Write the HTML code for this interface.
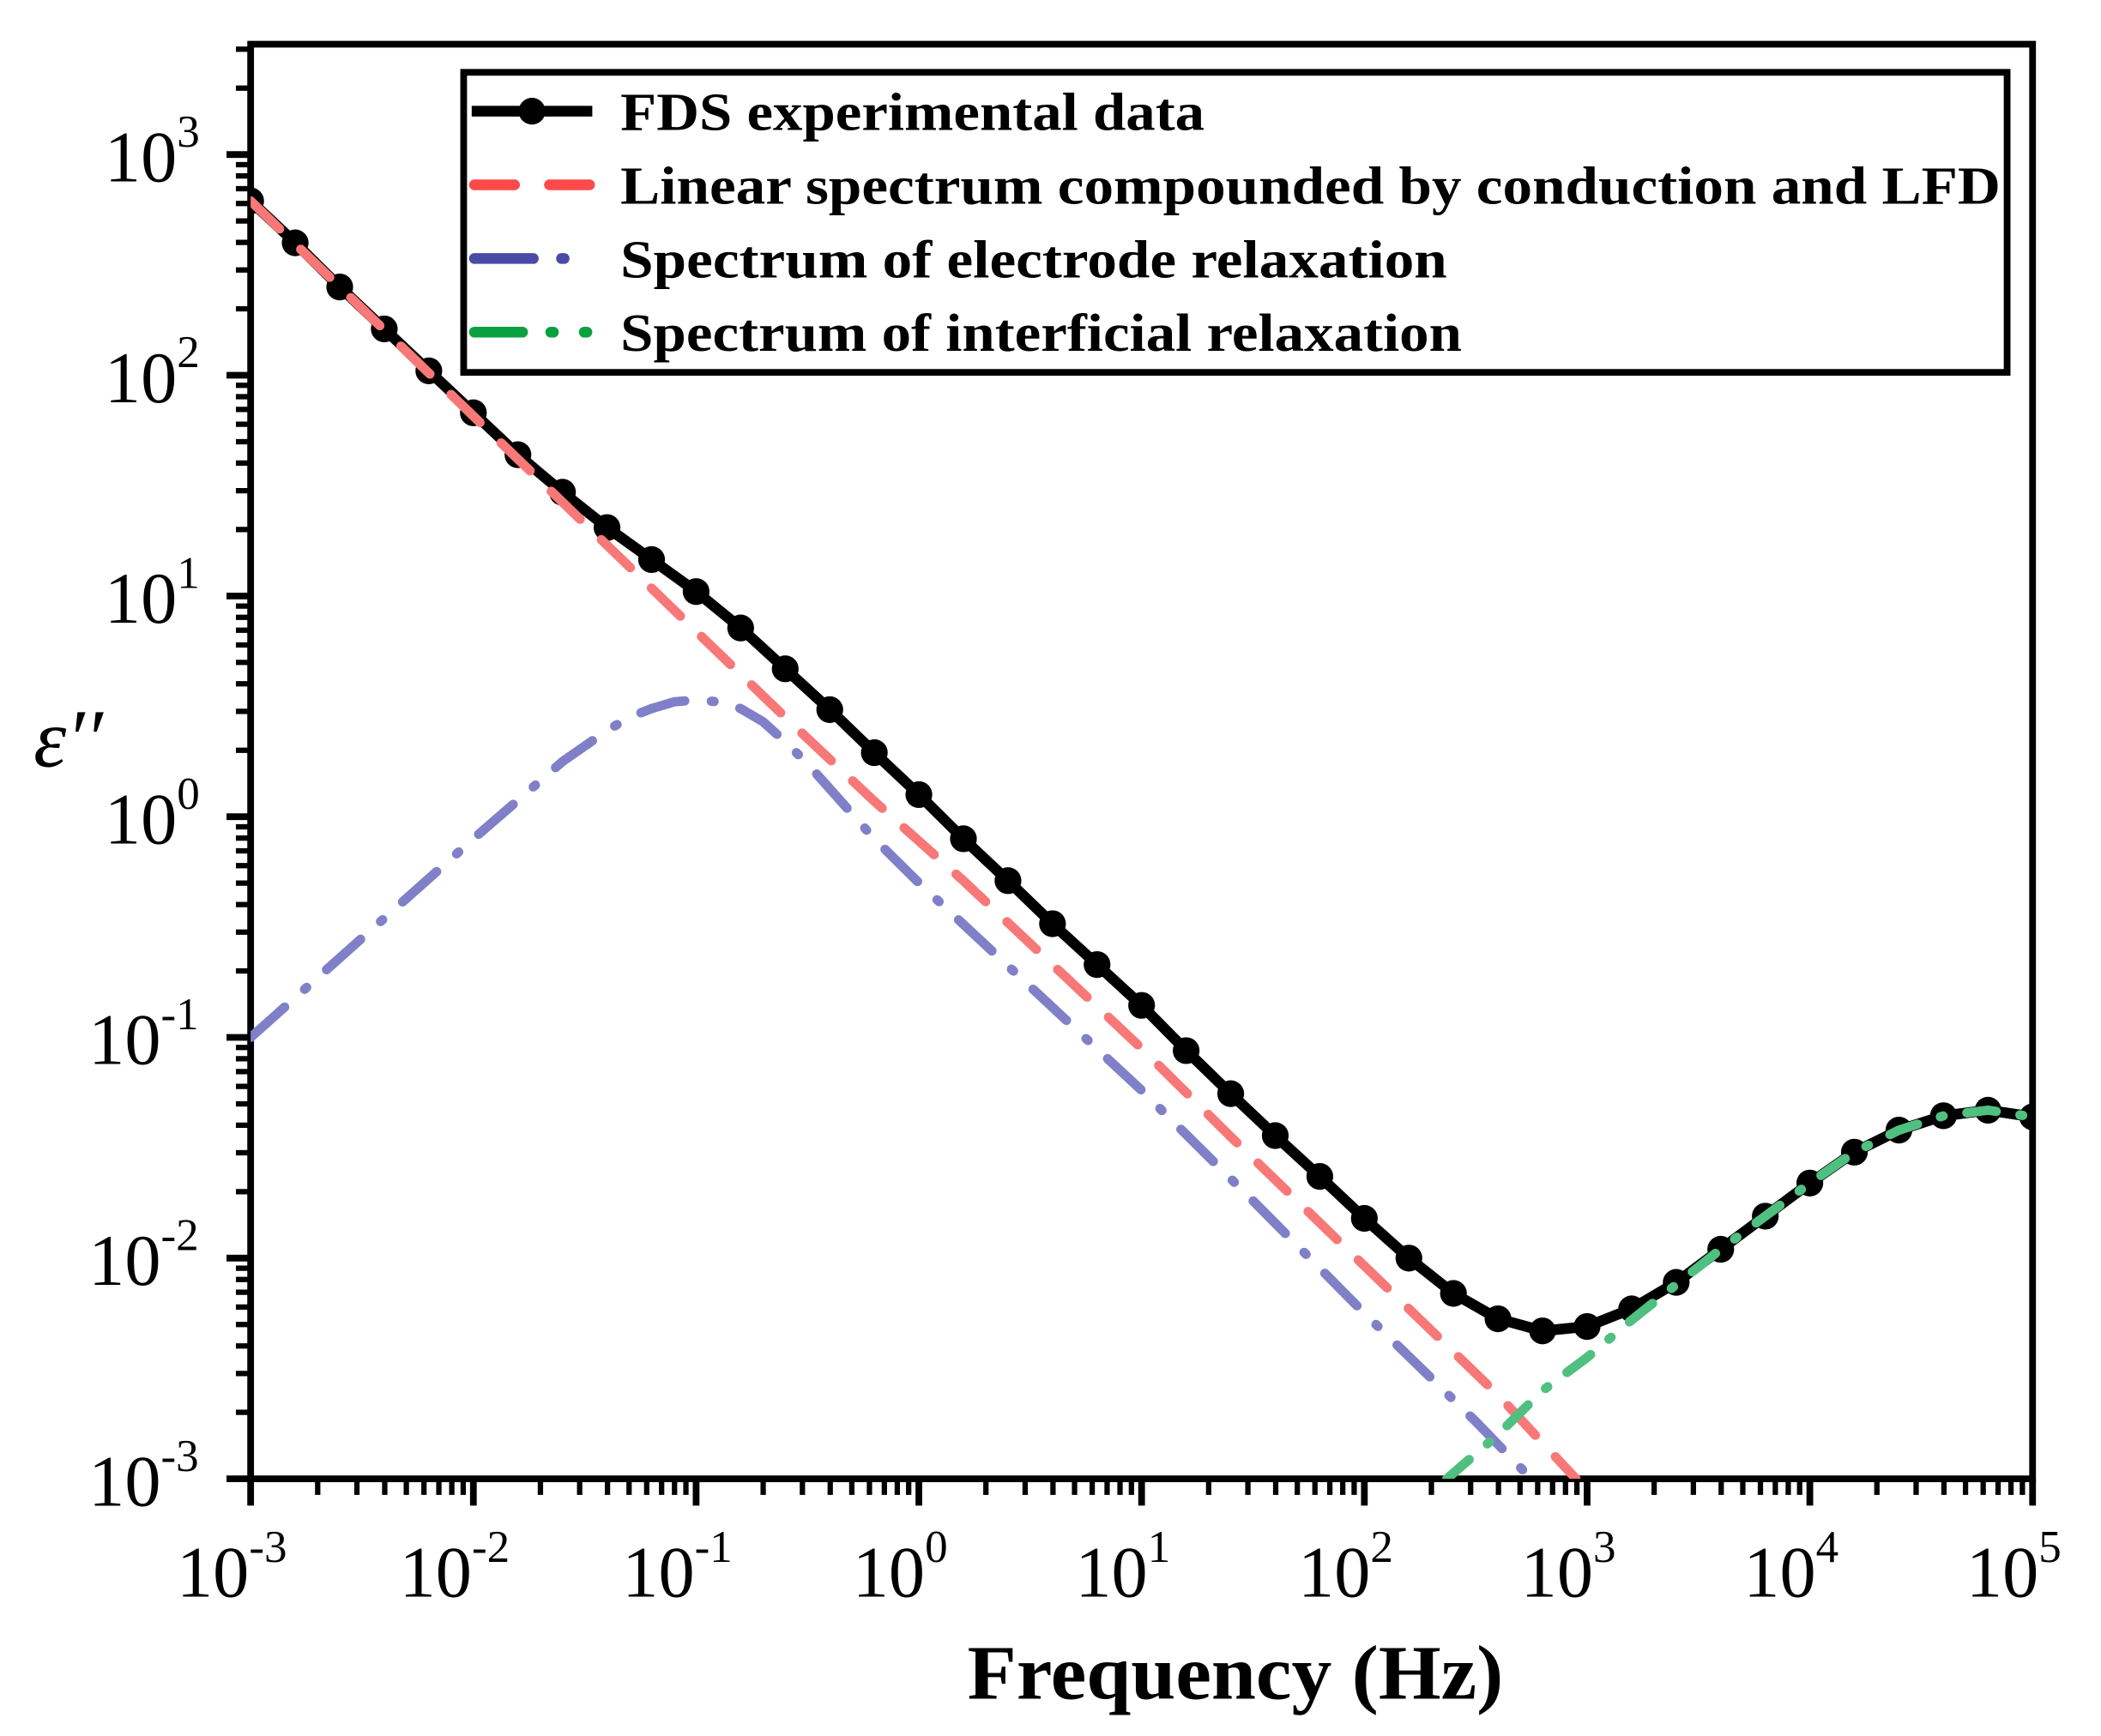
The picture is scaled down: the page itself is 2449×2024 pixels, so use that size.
<!DOCTYPE html>
<html><head><meta charset="utf-8"><style>
html,body{margin:0;padding:0;background:#fff;}
svg{display:block;}
text{font-family:"Liberation Serif",serif;fill:#000;}
</style></head><body>
<svg id="chart" width="2449" height="2024" viewBox="0 0 1568 1296" xmlns="http://www.w3.org/2000/svg">
<g id="axes"></g>
<g id="series"></g>
<g id="legend">
  <rect x="346" y="54" width="1152" height="224" fill="#fff" stroke="#000" stroke-width="5"/>
  <g>
    <line x1="352" y1="83" x2="442" y2="83" stroke="#000" stroke-width="8"/>
    <circle cx="397" cy="83" r="10" fill="#000"/>
    <text x="463" y="97" font-size="40" font-weight="bold" textLength="436" lengthAdjust="spacingAndGlyphs">FDS experimental data</text>
  </g>
  <g>
    <line x1="354" y1="138" x2="440" y2="138" stroke="#ff4a4a" stroke-width="8" stroke-dasharray="30,26" stroke-linecap="round"/>
    <text x="463" y="152" font-size="40" font-weight="bold" textLength="1030" lengthAdjust="spacingAndGlyphs">Linear spectrum compounded by conduction and LFD</text>
  </g>
  <g>
    <line x1="354" y1="193" x2="398" y2="193" stroke="#4a4aa8" stroke-width="8" stroke-linecap="round"/>
    <line x1="419" y1="193" x2="421" y2="193" stroke="#4a4aa8" stroke-width="8" stroke-linecap="round"/>
    <text x="463" y="207" font-size="40" font-weight="bold" textLength="617" lengthAdjust="spacingAndGlyphs">Spectrum of electrode relaxation</text>
  </g>
  <g>
    <line x1="354" y1="248" x2="390" y2="248" stroke="#0aa040" stroke-width="8" stroke-linecap="round"/>
    <line x1="411" y1="248" x2="413" y2="248" stroke="#0aa040" stroke-width="8" stroke-linecap="round"/>
    <line x1="436" y1="248" x2="438" y2="248" stroke="#0aa040" stroke-width="8" stroke-linecap="round"/>
    <text x="463" y="262" font-size="40" font-weight="bold" textLength="628" lengthAdjust="spacingAndGlyphs">Spectrum of interficial relaxation</text>
  </g>
</g>
<text x="922" y="1268" font-size="58" font-weight="bold" text-anchor="middle" textLength="400" lengthAdjust="spacingAndGlyphs">Frequency (Hz)</text>
<text x="25" y="572" font-size="62" font-style="italic">ε′′</text>
</svg>
<script>
// data (log10 values)
const fdsLogF = [-3,-2.8,-2.6,-2.4,-2.2,-2,-1.8,-1.6,-1.4,-1.2,-1,-0.8,-0.6,-0.4,-0.2,0,0.2,0.4,0.6,0.8,1,1.2,1.4,1.6,1.8,2,2.2,2.4,2.6,2.8,3,3.2,3.4,3.6,3.8,4,4.2,4.4,4.6,4.8,5];
const fdsLogE = [2.79,2.6,2.4,2.21,2.02,1.83,1.64,1.47,1.31,1.165,1.02,0.855,0.67,0.485,0.29,0.1,-0.1,-0.29,-0.485,-0.67,-0.855,-1.06,-1.255,-1.445,-1.63,-1.82,-2.0,-2.16,-2.275,-2.33,-2.31,-2.23,-2.11,-1.96,-1.81,-1.66,-1.52,-1.42,-1.355,-1.33,-1.36];
const linLogF = [-3,-2.6,-2.2,-1.8,-1.4,-1,-0.6,-0.2,0.2,0.6,1,1.4,1.8,2.2,2.6,2.95];
const linLogE = [2.79,2.40,2.01,1.62,1.23,0.84,0.45,0.07,-0.29,-0.67,-1.05,-1.45,-1.84,-2.23,-2.62,-3.0];
const eleLogF = [-3,-2.5,-2,-1.6,-1.4,-1.3,-1.2,-1.1,-1,-0.9,-0.8,-0.7,-0.6,-0.5,-0.2,0,0.5,1,1.5,2,2.5,2.75];
const eleLogE = [-1.0,-0.55,-0.1,0.25,0.39,0.45,0.49,0.52,0.53,0.52,0.49,0.43,0.34,0.24,-0.1,-0.3,-0.77,-1.24,-1.74,-2.25,-2.74,-3.0];
const intLogF = [2.37,2.6,2.8,3.0,3.2,3.4,3.6,3.8,4,4.2,4.4,4.6,4.8,5];
const intLogE = [-3.0,-2.8,-2.6,-2.45,-2.28,-2.12,-1.96,-1.81,-1.66,-1.52,-1.42,-1.355,-1.33,-1.36];
const xTickExps = [-3,-2,-1,0,1,2,3,4,5];
const yTickExps = [-3,-2,-1,0,1,2,3];

const L=187,R=1517,T=33,B=1104, XMIN=-3,XMAX=5,YMIN=-3,YMAX=3.5;
const sx=v=>L+(v-XMIN)/(XMAX-XMIN)*(R-L);
const sy=v=>B-(v-YMIN)/(YMAX-YMIN)*(B-T);
const NS='http://www.w3.org/2000/svg';
function mk(tag,attrs,parent){const e=document.createElementNS(NS,tag);for(const k in attrs)e.setAttribute(k,attrs[k]);parent.appendChild(e);return e;}
const axes=document.getElementById('axes'), series=document.getElementById('series');

const frame=mk('rect',{x:L,y:T,width:R-L,height:B-T,fill:'none',stroke:'#000','stroke-width':5},axes);



for(let d=XMIN; d<=XMAX; d++){
  const x=sx(d);
  const t=mk('line',{x1:x,y1:B,x2:x,y2:B+20,stroke:'#000','stroke-width':5},axes);
  
  
  if(d<XMAX) for(let m=2;m<=9;m++){
    const xm=sx(d+Math.log10(m));
    const tm=mk('line',{x1:xm,y1:B,x2:xm,y2:B+12,stroke:'#000','stroke-width':4},axes);
    
    
  }
}
xTickExps.forEach(e=>{
  const tx=mk('text',{x:sx(e)-14,y:1192,'font-size':54,'text-anchor':'middle'},axes);
  
  
  tx.textContent='10';
  const sp=mk('tspan',{dy:-26,'font-size':34},tx); sp.textContent=String(e);
});
for(let d=YMIN; d<=3; d++){
  const y=sy(d);
  const t=mk('line',{x1:L,y1:y,x2:L-18,y2:y,stroke:'#000','stroke-width':5},axes);
  
  
  for(let m=2;m<=9;m++){
    const v=d+Math.log10(m); if(v>YMAX) break;
    const ym=sy(v);
    const tm=mk('line',{x1:L,y1:ym,x2:L-11,y2:ym,stroke:'#000','stroke-width':4},axes);
    
    
  }
}
yTickExps.forEach(e=>{
  const tx=mk('text',{x:e<0?66:78,y:sy(e)+20,'font-size':54},axes);
  
  
  tx.textContent='10';
  const sp=mk('tspan',{dy:-26,'font-size':34},tx); sp.textContent=String(e);
});

function path(fx,fy){return fx.map((v,i)=>(i?'L':'M')+sx(v).toFixed(1)+','+sy(fy[i]).toFixed(1)).join(' ');}
const clip=mk('clipPath',{id:'pc'},mk('defs',{},series));
mk('rect',{x:L,y:T,width:R-L,height:B-T},clip);
const g=mk('g',{'clip-path':'url(#pc)'},series);

const bl=mk('path',{d:path(fdsLogF,fdsLogE),fill:'none',stroke:'#000','stroke-width':8,'stroke-linejoin':'round'},g);


fdsLogF.forEach((v,i)=>{
  const c=mk('circle',{cx:sx(v),cy:sy(fdsLogE[i]),r:10,fill:'#000'},g);
  
  
});
const rl=mk('path',{d:path(linLogF,linLogE),fill:'none',stroke:'#f87878','stroke-width':7,'stroke-dasharray':'30,22','stroke-linecap':'round'},g);


const el=mk('path',{d:path(eleLogF,eleLogE),fill:'none',stroke:'#8080c8','stroke-width':7,'stroke-dasharray':'34,20,2,20','stroke-linecap':'round','stroke-linejoin':'round'},g);


const gl=mk('path',{d:path(intLogF,intLogE),fill:'none',stroke:'#50c080','stroke-width':7,'stroke-dasharray':'22,18,2,18','stroke-linecap':'round'},g);


</script>
</body></html>
